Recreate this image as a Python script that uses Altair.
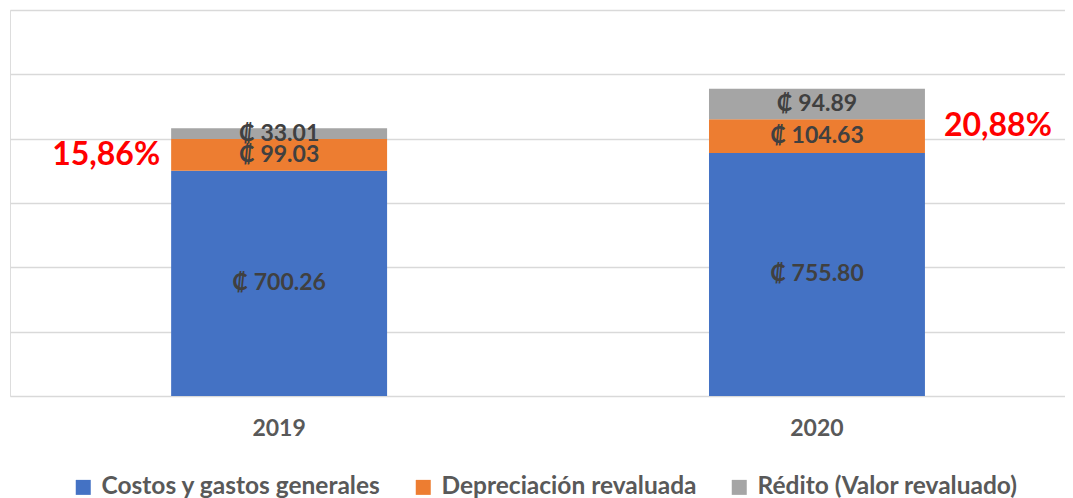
import altair as alt
import pandas as pd

years = ["2019", "2020"]
series = ["Costos y gastos generales", "Depreciación revaluada", "Rédito (Valor revaluado)"]
costos = [700.26, 755.80]
depreciacion = [99.03, 104.63]
redito = [33.01, 94.89]
colors = ["#4472C4", "#ED7D31", "#A5A5A5"]
pct_labels = ["15,86%", "20,88%"]
pct_label_y = [750, 838]  # vertical anchor of the red percentage notes (value units)
y_ticks = [0, 200, 400, 600, 800, 1000, 1200]

FONT = "Lato"

rows = []
for i, yr in enumerate(years):
    vals = [costos[i], depreciacion[i], redito[i]]
    cum = 0.0
    for k, (s, v) in enumerate(zip(series, vals)):
        rows.append({"year": yr, "serie": s, "order": k, "value": v,
                     "y0": cum, "y1": cum + v, "mid": cum + v / 2,
                     "label": f"\u20a1 {v:.2f}"})
        cum += v
df = pd.DataFrame(rows)

pdf = pd.DataFrame({"year": years, "pos": pct_label_y, "txt": pct_labels})

xscale = alt.Scale(domain=years, paddingInner=0.5985, paddingOuter=0.28, align=0.535)
yscale = alt.Scale(domain=[0, 1200], nice=False)

base = alt.Chart(df)

bars = base.mark_bar().encode(
    x=alt.X("year:N", scale=xscale, title=None,
            axis=alt.Axis(labelAngle=0, domain=False, ticks=False, labelPadding=21,
                          labelFontSize=23, labelFontWeight="bold", labelColor="#595959",
                          labelFont=FONT, grid=False)),
    y=alt.Y("y0:Q", scale=yscale, title=None,
            axis=alt.Axis(values=y_ticks, labels=False, ticks=False, domain=False,
                          grid=True, gridColor="#D9D9D9", gridWidth=1.5)),
    y2="y1:Q",
    color=alt.Color("serie:N", scale=alt.Scale(domain=series, range=colors),
                    legend=alt.Legend(orient="none", legendX=61, legendY=465,
                                      direction="horizontal", title=None,
                                      symbolType="square", symbolSize=225,
                                      symbolStrokeWidth=0, symbolOpacity=1,
                                      labelFontSize=24.5, labelFontWeight="bold",
                                      labelColor="#595959", labelFont=FONT,
                                      labelLimit=0, columnPadding=30, labelOffset=6)),
    order=alt.Order("order:Q"),
)

labels = base.mark_text(font=FONT, fontSize=23, fontWeight="bold", color="#404040",
                        baseline="middle", align="center").encode(
    x=alt.X("year:N", scale=xscale),
    y=alt.Y("mid:Q", scale=yscale),
    text="label:N",
)

pbase = alt.Chart(pdf)
pct_left = pbase.transform_filter(alt.datum.year == years[0]).mark_text(
    font=FONT, fontSize=32, fontWeight="bold", color="#FF0000",
    align="right", baseline="middle", dx=-11).encode(
    x=alt.X("year:N", scale=xscale, bandPosition=0),
    y=alt.Y("pos:Q", scale=yscale),
    text="txt:N",
)
pct_right = pbase.transform_filter(alt.datum.year == years[1]).mark_text(
    font=FONT, fontSize=32, fontWeight="bold", color="#FF0000",
    align="left", baseline="middle", dx=19).encode(
    x=alt.X("year:N", scale=xscale, bandPosition=1),
    y=alt.Y("pos:Q", scale=yscale),
    text="txt:N",
)

chart = alt.layer(bars, labels, pct_left, pct_right).properties(
    width=1055, height=386,
    padding={"left": 2, "top": 2, "right": 0, "bottom": 0},
).configure_view(stroke=None).configure(background="white")

chart.save("out.html", embed_options={"renderer": "svg", "actions": False})
